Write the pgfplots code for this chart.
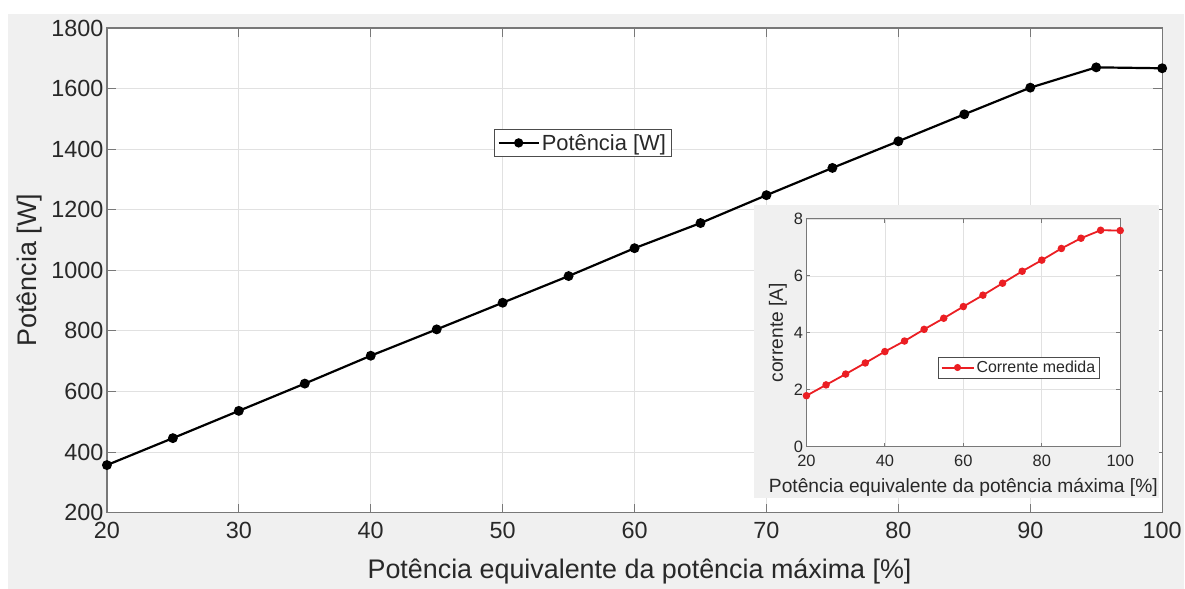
\documentclass[border=0pt]{standalone}
\usepackage{pgfplots}
\pgfplotsset{compat=1.18}
\usepackage{fontspec}
\setmainfont{Liberation Sans}
\definecolor{figbg}{RGB}{240,240,240}
\definecolor{axcol}{RGB}{120,120,120}
\definecolor{txtcol}{RGB}{40,40,40}
\definecolor{gridcol}{RGB}{225,225,225}
\definecolor{redline}{RGB}{235,30,35}

\begin{document}
\begin{tikzpicture}
\fill[white] (0,0) rectangle (1185bp,589bp);
\fill[figbg] (8bp,0) rectangle (1185bp,575bp);
\begin{axis}[
  at={(107bp,76bp)}, anchor=south west,
  scale only axis, width=1056bp, height=485bp,
  xmin=20, xmax=100, ymin=200, ymax=1800,
  xtick={20,30,...,100}, ytick={200,400,...,1800},
  grid=major, major grid style={gridcol, line width=0.8bp},
  axis line style={axcol, line width=1.2bp},
  tick style={axcol, line width=1bp},
  tick align=inside, major tick length=9bp,
  axis background/.style={fill=white},
  /pgf/number format/assume math mode=true,
  /pgf/number format/1000 sep={},
  ticklabel style={font=\fontsize{23.5}{23.5}\selectfont, text=txtcol},
  xticklabel style={yshift=-6bp},
  label style={font=\fontsize{27}{27}\selectfont, text=txtcol},
  xlabel style={yshift=-13bp, xshift=5bp},
  ylabel style={yshift=2bp},
  xlabel={Potência equivalente da potência máxima [\%]},
  ylabel={Potência [W]},
  legend style={at={(0.367,0.792)}, anchor=north west, draw=black!70, line width=0.8bp,
    font=\fontsize{22}{22}\selectfont, text=txtcol, inner sep=3bp},
  legend cell align=left,
  legend image code/.code={
    \draw[color=black, line width=2.2bp] (0bp,0bp) -- (40bp,0bp);
    \fill[black] (20bp,0bp) circle (3.5bp);
  },
]
\addplot[black, line width=2.2bp, mark=*, mark size=3.8bp, mark options={fill=black}] coordinates {
 (20,357) (25,446) (30,536) (35,626) (40,718) (45,805) (50,893) (55,981)
 (60,1073) (65,1156) (70,1248) (75,1338) (80,1426) (85,1515) (90,1603)
 (95,1670) (100,1667)
};
\addlegendentry{Potência [W]}
\end{axis}

\fill[figbg] (755bp,91bp) rectangle (1160bp,384bp);
\begin{axis}[
  at={(807bp,142bp)}, anchor=south west,
  scale only axis, width=314bp, height=228bp,
  xmin=20, xmax=100, ymin=0, ymax=8,
  xtick={20,40,...,100}, ytick={0,2,...,8},
  grid=major, major grid style={gridcol, line width=0.6bp},
  axis line style={axcol, line width=1bp},
  tick style={axcol, line width=0.8bp},
  tick align=inside, major tick length=4bp,
  axis background/.style={fill=white},
  /pgf/number format/assume math mode=true,
  ticklabel style={font=\fontsize{16.5}{16.5}\selectfont, text=txtcol},
  xticklabel style={yshift=-5bp},
  label style={font=\fontsize{19.3}{19.3}\selectfont, text=txtcol},
  xlabel style={yshift=-5bp},
  xlabel={Potência equivalente da potência máxima [\%]},
  ylabel={corrente [A]},
  legend style={at={(0.42,0.395)}, anchor=north west, draw=black!70, line width=0.6bp,
    font=\fontsize{16}{16}\selectfont, text=txtcol, inner sep=2bp},
  legend cell align=left,
  legend image code/.code={
    \draw[color=redline, line width=2bp] (0bp,0bp) -- (32bp,0bp);
    \fill[redline] (16bp,0bp) circle (2.6bp);
  },
]
\addplot[redline, line width=1.8bp, mark=*, mark size=2.8bp, mark options={fill=redline}] coordinates {
 (20,1.79) (25,2.17) (30,2.55) (35,2.94) (40,3.34) (45,3.71) (50,4.12)
 (55,4.51) (60,4.92) (65,5.32) (70,5.74) (75,6.16) (80,6.55) (85,6.96)
 (90,7.32) (95,7.60) (100,7.59)
};
\addlegendentry{Corrente medida}
\end{axis}
\end{tikzpicture}
\end{document}
